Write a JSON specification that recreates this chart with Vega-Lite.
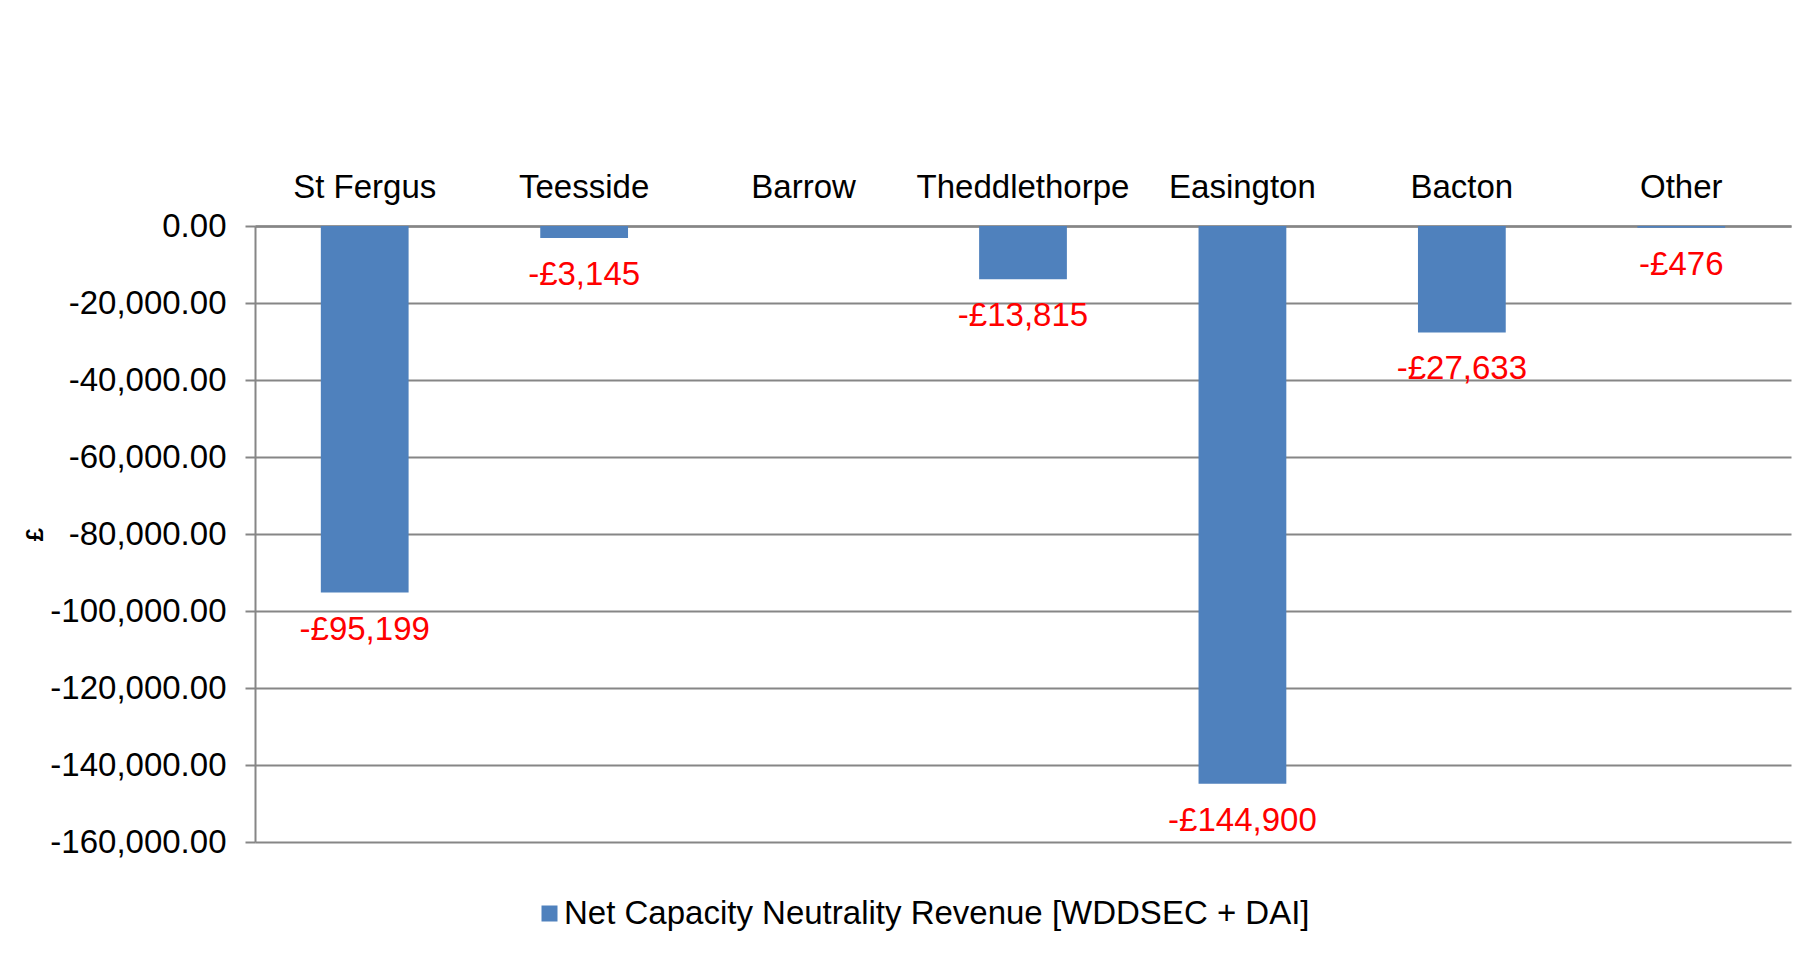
{
  "$schema": "https://vega.github.io/schema/vega-lite/v6.json",
  "autosize": "none",
  "width": 1536,
  "height": 616,
  "padding": {"left": 255, "top": 226, "right": 27, "bottom": 114},
  "background": "white",
  "config": {
    "font": "Liberation Sans",
    "locale": {"number": {"decimal": ".", "thousands": ",", "grouping": [3], "currency": ["£", ""], "minus": "-"}},
    "view": {"stroke": null}
  },
  "data": {
    "values": [
      {"terminal": "St Fergus", "value": -95199, "series": "Net Capacity Neutrality Revenue [WDDSEC + DAI]"},
      {"terminal": "Teesside", "value": -3145, "series": "Net Capacity Neutrality Revenue [WDDSEC + DAI]"},
      {"terminal": "Barrow", "value": null, "series": "Net Capacity Neutrality Revenue [WDDSEC + DAI]"},
      {"terminal": "Theddlethorpe", "value": -13815, "series": "Net Capacity Neutrality Revenue [WDDSEC + DAI]"},
      {"terminal": "Easington", "value": -144900, "series": "Net Capacity Neutrality Revenue [WDDSEC + DAI]"},
      {"terminal": "Bacton", "value": -27633, "series": "Net Capacity Neutrality Revenue [WDDSEC + DAI]"},
      {"terminal": "Other", "value": -476, "series": "Net Capacity Neutrality Revenue [WDDSEC + DAI]"}
    ]
  },
  "encoding": {
    "x": {
      "field": "terminal",
      "type": "nominal",
      "sort": null,
      "scale": {"domain": ["St Fergus", "Teesside", "Barrow", "Theddlethorpe", "Easington", "Bacton", "Other"], "paddingInner": 0.6, "paddingOuter": 0.3},
      "axis": {
        "orient": "top",
        "title": null,
        "ticks": false,
        "labelAngle": 0,
        "labelFontSize": 33,
        "labelColor": "#000000",
        "labelBaseline": "middle",
        "labelPadding": 39,
        "labelLimit": 400,
        "labelOverlap": false,
        "domainColor": "#868686",
        "domainWidth": 2.5,
        "grid": false
      }
    },
    "y": {
      "field": "value",
      "type": "quantitative",
      "scale": {"domain": [-160000, 0], "nice": false},
      "axis": {
        "title": "£",
        "titleFontSize": 24,
        "titleFontWeight": "bold",
        "titleColor": "#000000",
        "titleX": -208,
        "values": [0, -20000, -40000, -60000, -80000, -100000, -120000, -140000, -160000],
        "format": ",.2f",
        "labelFontSize": 33,
        "labelColor": "#000000",
        "labelPadding": 19,
        "tickSize": 10,
        "tickColor": "#868686",
        "tickWidth": 2,
        "domainColor": "#868686",
        "domainWidth": 2,
        "gridColor": "#868686",
        "gridWidth": 2
      }
    }
  },
  "layer": [
    {
      "mark": {"type": "bar", "color": "#4F81BD"},
      "encoding": {
        "color": {
          "field": "series",
          "type": "nominal",
          "scale": {"range": ["#4F81BD"]},
          "legend": {
            "title": null,
            "orient": "none",
            "legendX": 278,
            "legendY": 671,
            "symbolType": "square",
            "symbolSize": 256,
            "symbolStrokeWidth": 0,
            "labelFontSize": 33,
            "labelColor": "#000000",
            "labelOffset": -2,
            "labelLimit": 1000
          }
        }
      }
    },
    {
      "mark": {"type": "text", "color": "#FF0000", "fontSize": 33, "baseline": "middle", "dy": 37},
      "encoding": {
        "text": {"field": "value", "type": "quantitative", "format": "$,.0f"}
      }
    }
  ]
}
